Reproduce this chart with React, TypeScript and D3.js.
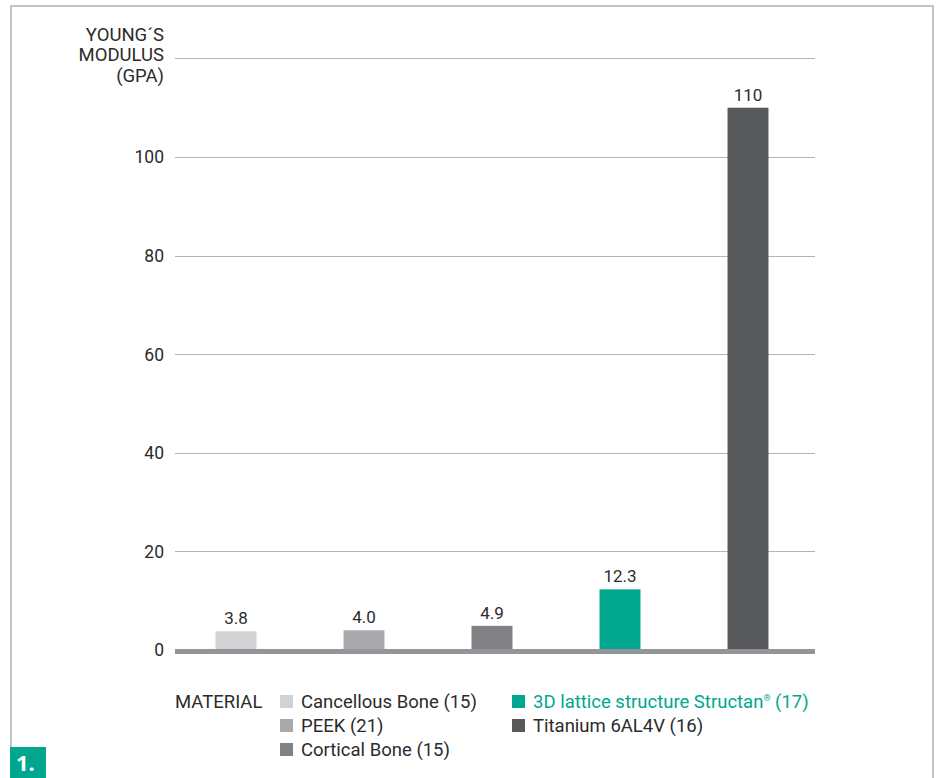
import React from "react";
import * as d3 from "d3";

const categories = ["Cancellous Bone", "PEEK", "Cortical Bone", "3D lattice structure Structan", "Titanium 6AL4V"];
const values = [3.8, 4.0, 4.9, 12.3, 110];
const valueLabels = ["3.8", "4.0", "4.9", "12.3", "110"];
const colors = ["#d1d2d4", "#a7a9ac", "#808285", "#00a78e", "#58595b"];
const legendLabels = ["Cancellous Bone (15)", "PEEK (21)", "Cortical Bone (15)", "3D lattice structure Structan", "Titanium 6AL4V (16)"];
const yTicks = [0, 20, 40, 60, 80, 100];
const yTitle = ["YOUNG´S", "MODULUS", "(GPA)"];

const W = 937, H = 778;
const FONT = "Roboto, 'Open Sans', sans-serif";
const NARROW = "'Liberation Sans Narrow', Roboto, sans-serif";
const TXT = "#2b2b2b";

export default function App() {
  const y = d3.scaleLinear().domain([0, 100]).range([650, 157]);
  const x = d3.scaleBand<string>().domain(categories).range([172, 812]).paddingInner(0.68).paddingOuter(0.34);
  const gridVals = [20, 40, 60, 80, 100, 120];

  const legendPos = [
    { x: 280, y: 701 }, { x: 280, y: 725 }, { x: 280, y: 749 },
    { x: 512, y: 701 }, { x: 512, y: 725 },
  ];

  return (
    <svg width={W} height={H} style={{ position: "absolute", left: 0, top: 0, background: "#fff" }} fontFamily={FONT}>
      {/* frame */}
      <path d={`M11,${H} L11,6 L933,6 L933,${H}`} fill="none" stroke="#c4c4c4" strokeWidth={2} />
      <rect x={10} y={747} width={36} height={31} fill="#00a78e" />
      <text x={16} y={771} fill="#fff" fontSize={22} fontWeight="bold" fontFamily="'Open Sans', sans-serif">1.</text>

      {/* grid */}
      {gridVals.map((v) => (
        <line key={v} x1={175} x2={815} y1={Math.round(y(v)) + 0.5} y2={Math.round(y(v)) + 0.5} stroke="#b3b3b3" strokeWidth={1} />
      ))}
      {yTicks.map((v) => (
        <text key={v} x={164} y={y(v)} dy="0.36em" textAnchor="end" fontSize={17.5} fill={TXT}>{v}</text>
      ))}
      {yTitle.map((t, i) => (
        <text key={t} x={164} y={34 + i * 20.5} dy="0.36em" textAnchor="end" fontSize={18.5} fontFamily={NARROW} fill={TXT}>{t}</text>
      ))}

      {/* bars */}
      {categories.map((c, i) => (
        <g key={c}>
          <rect x={x(c)} y={y(values[i])} width={x.bandwidth()} height={y(0) - y(values[i])} fill={colors[i]} />
          <text x={(x(c) as number) + x.bandwidth() / 2} y={y(values[i]) - 7} textAnchor="middle" fontSize={17} fill={TXT}>{valueLabels[i]}</text>
        </g>
      ))}
      {/* baseline */}
      <line x1={175} x2={815} y1={651.5} y2={651.5} stroke="#939598" strokeWidth={5} />

      {/* legend */}
      <text x={175} y={701} dy="0.36em" fontSize={18.5} fill={TXT}>MATERIAL</text>
      {legendPos.map((p, i) => (
        <g key={i}>
          <rect x={p.x} y={p.y - 6} width={13} height={13} fill={colors[i]} />
          <text x={p.x + 21} y={p.y} dy="0.36em" fontSize={18.5} fill={i === 3 ? "#00a78e" : TXT}>
            {legendLabels[i]}
            {i === 3 ? (
              <>
                <tspan fontSize={9} dy={-7}>®</tspan>
                <tspan dy={7}> (17)</tspan>
              </>
            ) : null}
          </text>
        </g>
      ))}
    </svg>
  );
}
